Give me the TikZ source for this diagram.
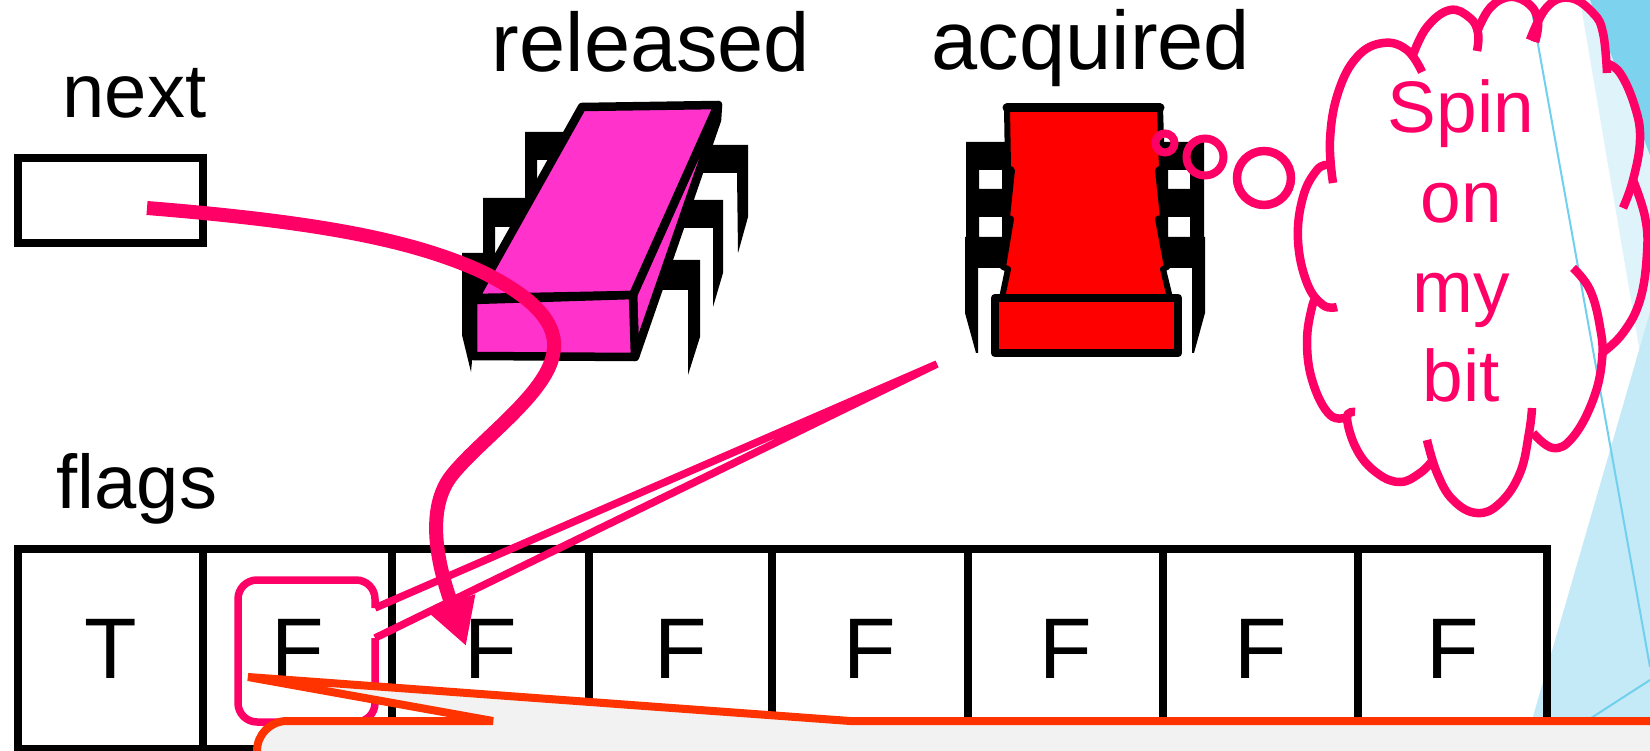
\documentclass[tikz,border=0pt]{standalone}
\usepackage{fontspec}
\setmainfont{Liberation Sans}
\usetikzlibrary{arrows.meta}
\definecolor{hotpink}{HTML}{FF0066}
\definecolor{chipmag}{HTML}{FF33CC}
\definecolor{chipred}{HTML}{FF0000}
\definecolor{noteorange}{HTML}{FF3300}
\definecolor{notefill}{HTML}{F2F2F2}
\definecolor{skydark}{HTML}{7DD3EE}
\definecolor{skylight}{HTML}{DFF3FA}
\definecolor{skymid}{HTML}{C4EAF7}
\definecolor{skyline}{HTML}{70D0EE}
\begin{document}
\begin{tikzpicture}[x=1pt,y=-1pt,
  cell/.style={draw=black, line width=8.5, minimum height=200, inner sep=0,
    font=\fontsize{86}{100}\selectfont},
  lbl/.style={anchor=base, inner sep=0},
  bigtext/.style={font=\fontsize{83}{96}\selectfont},
  midtext/.style={font=\fontsize{76}{90}\selectfont},
  thought/.style={anchor=base, inner sep=0, text=hotpink, font=\fontsize{73}{86}\selectfont},
  chipline/.style={draw=black, line width=8.5, line join=round},
  leg/.style={fill=black},
  cloudarc/.style={draw=hotpink, line width=8.5},
  bubble/.style={draw=hotpink, line width=8},
  pinkwire/.style={draw=hotpink, line width=7.5},
  pinkarrow/.style={draw=hotpink, line width=14, -{Triangle[length=46pt,width=48pt]}},
  noteline/.style={draw=noteorange, line width=8, line join=miter},
]
\useasboundingbox (0,0) rectangle (1650,751);
\clip (0,0) rectangle (1650,751);

% decorative blue panels on the right edge
\fill[skylight] (1580,0) -- (1650,0) -- (1650,412) -- cycle;
\fill[skydark] (1590,0) -- (1650,0) -- (1650,155) -- cycle;
\fill[skymid] (1523,751) -- (1650,312) -- (1650,751) -- cycle;
\draw[skyline, line width=2] (1530,0) -- (1650,667);
\draw[skyline, line width=2] (1650,680) -- (1540,751);

% labels
\node[lbl, midtext] (lblnext) at (134.5,118) {next};
\node[lbl, bigtext] (lblreleased) at (651,72) {released};
\node[lbl, bigtext] (lblacquired) at (1091,70) {acquired};
\node[lbl, midtext] (lblflags) at (137,508) {flags};

% the next pointer box
\node[draw=black, line width=8.5, minimum width=185, minimum height=85, inner sep=0] (nextbox) at (110.5,200.5) {};

% flags array
\node[cell, minimum width=185] (c1) at (110.5,649) {T};
\node[cell, minimum width=189] (c2) at (297.5,649) {F};
\node[cell, minimum width=197] (c3) at (490.5,649) {F};
\node[cell, minimum width=183] (c4) at (680.5,649) {F};
\node[cell, minimum width=196] (c5) at (870,649) {F};
\node[cell, minimum width=195] (c6) at (1065.5,649) {F};
\node[cell, minimum width=195] (c7) at (1260.5,649) {F};
\node[cell, minimum width=189] (c8) at (1452.5,649) {F};

% released chip: legs behind the body
\fill[leg] (525,132) -- (575,132) -- (575,160) -- (537,160) -- (537,250) -- (525,250) -- cycle;
\fill[leg] (483,198) -- (530,198) -- (530,227) -- (495,227) -- (495,300) -- (483,300) -- cycle;
\fill[leg] (462,253) -- (505,253) -- (505,300) -- (474,300) -- (474,340) -- (471,372) -- (462,335) -- cycle;
\fill[leg] (700,145) -- (748,145) -- (748,217) -- (738,253) -- (737,173) -- (700,173) -- cycle;
\fill[leg] (680,200) -- (723,200) -- (723,273) -- (713,307) -- (713,228) -- (680,228) -- cycle;
\fill[leg] (655,260) -- (700,260) -- (700,337) -- (688,375) -- (688,290) -- (655,290) -- cycle;
% released chip: body
\filldraw[chipline, fill=chipmag] (718,105) -- (633,295) -- (635,357) -- (717,120) -- cycle;
\filldraw[chipline, fill=chipmag] (582,107) -- (718,105) -- (633,295) -- (475,298) -- cycle;
\filldraw[chipline, fill=chipmag] (473,300) -- (633,295) -- (635,357) -- (473,356) -- cycle;

% acquired chip: legs
\fill[leg, even odd rule] (966,142) rectangle (1012,268) (979,170) rectangle (1002,189) (979,217) rectangle (1002,237);
\fill[leg] (965,237) -- (978,237) -- (978,353) -- (976,353) -- (965,313) -- cycle;
\fill[leg, even odd rule] (1158,142) rectangle (1204,268) (1168,170) rectangle (1190,189) (1168,217) rectangle (1190,237);
\fill[leg] (1192,237) -- (1205,237) -- (1205,313) -- (1194,353) -- (1192,353) -- cycle;
% acquired chip: body
\filldraw[draw=black, line width=6, line join=round, fill=chipred]
  (1007,108) -- (1160,108) -- (1162,168) -- (1158,170) -- (1163,217) -- (1158,219)
  -- (1167,267) -- (1163,269) -- (1170,298) -- (1002,298) -- (1008,269) -- (1003,267)
  -- (1011,219) -- (1007,217) -- (1012,170) -- (1008,168) -- cycle;
\draw[black, line width=9, line cap=round] (1007,108) -- (1160,108);
\filldraw[chipline, fill=chipred] (995,298) rectangle (1178,353);

% thought bubbles
\draw[bubble] (1165,143) circle[radius=9.5];
\draw[bubble] (1205,157) circle[radius=18.5];
\draw[bubble, line width=8.5] (1264,178) circle[radius=27];

% thought cloud
\draw[cloudarc] plot[smooth, tension=0.7] coordinates {(1333,183) (1330,140) (1338,93) (1357,57) (1383,43) (1407,50) (1422,72)};
\draw[cloudarc] plot[smooth, tension=0.7] coordinates {(1413,55) (1427,27) (1450,10) (1470,18) (1478,33) (1477,51)};
\draw[cloudarc] plot[smooth, tension=0.7] coordinates {(1477,32) (1490,8) (1510,-3) (1530,5) (1538,22) (1535,42)};
\draw[cloudarc] plot[smooth, tension=0.7] coordinates {(1530,40) (1547,7) (1570,-2) (1593,13) (1603,33) (1607,73)};
\draw[cloudarc] plot[smooth, tension=0.7] coordinates {(1605,63) (1620,73) (1635,107) (1640,140) (1633,180) (1623,208)};
\draw[cloudarc] plot[smooth, tension=0.7] coordinates {(1633,180) (1645,217) (1647,253) (1640,300) (1623,333) (1602,353)};
\draw[cloudarc] plot[smooth, tension=0.7] coordinates {(1573,268) (1590,290) (1600,327) (1602,360) (1593,400) (1573,437) (1553,448) (1533,433)};
\draw[cloudarc] plot[smooth, tension=0.7] coordinates {(1532,408) (1529,433) (1520,473) (1500,503) (1477,513) (1453,500) (1437,473) (1427,440)};
\draw[cloudarc] plot[smooth, tension=0.7] coordinates {(1433,460) (1420,473) (1400,482) (1377,473) (1357,450) (1347,418) (1355,412)};
\draw[cloudarc] plot[smooth, tension=0.7] coordinates {(1348,417) (1330,415) (1313,383) (1307,343) (1312,307) (1318,295)};
\draw[cloudarc] plot[smooth, tension=0.7] coordinates {(1337,307) (1323,305) (1307,283) (1298,240) (1303,197) (1317,170) (1328,165)};
\node[thought] (spin1) at (1461,133) {Spin};
\node[thought] (spin2) at (1461,223) {on};
\node[thought] (spin3) at (1461,313) {my};
\node[thought] (spin4) at (1461,402) {bit};

% callout from the acquired lock to its flag
\coordinate (acqtip) at (937,364);
\draw[pinkwire, rounded corners=19] (375,608) -- (375,580) -- (238,580) -- (238,722) -- (375,722) -- (375,638);
\draw[pinkwire, line join=miter] (375,638) -- (acqtip) -- (375,608);

% next pointer into the flags array
\coordinate (nextptr) at (147,208);
\coordinate (flagtip) at (466,646);
\draw[pinkarrow] (nextptr) .. controls (320,222) and (410,240) .. (478,270)
  .. controls (535,297) and (560,325) .. (553,355)
  .. controls (545,395) and (480,440) .. (452,475)
  .. controls (420,515) and (445,585) .. (flagtip);

% note callout along the bottom
\coordinate (notetip) at (248,677);
\fill[notefill] (287,721) -- (1690,721) -- (1690,800) -- (257,800) -- (257,751)
  .. controls (257,734.4) and (270.4,721) .. (287,721) -- cycle;
\fill[notefill] (493,721) -- (notetip) -- (850,721) -- cycle;
\draw[noteline] (257,800) -- (257,751) .. controls (257,734.4) and (270.4,721) .. (287,721)
  -- (493,721) -- (notetip) -- (850,721) -- (1690,721);
\end{tikzpicture}
\end{document}
